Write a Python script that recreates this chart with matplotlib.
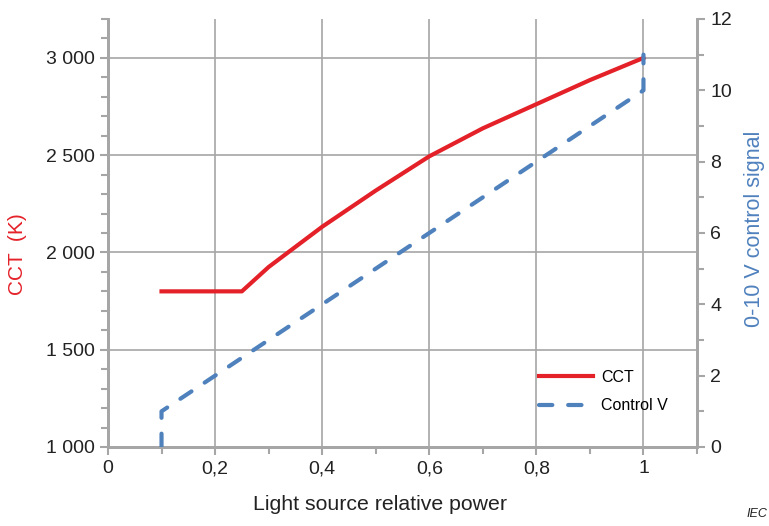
import matplotlib
matplotlib.use("Agg")
import matplotlib.pyplot as plt
from matplotlib.ticker import MultipleLocator, FuncFormatter

plt.rcParams['font.family'] = ['Liberation Sans', 'DejaVu Sans']

power_cct = [0.1, 0.25, 0.3, 0.4, 0.5, 0.6, 0.7, 0.8, 0.9, 1.0]
cct = [1800, 1800, 1925, 2132, 2318, 2494, 2638, 2762, 2886, 3000]
power_v = [0.1, 0.1, 1.0, 1.0]
control_v = [0, 1, 10, 11]

red = '#E42128'
blue = '#4F81BD'
grey = '#A6A6A6'

fig = plt.figure(figsize=(7.69, 5.26), dpi=100)
ax = fig.add_axes([0.1404, 0.1502, 0.766, 0.8137])
ax2 = ax.twinx()

ax.set_xlim(0, 1.1)
ax.set_ylim(1000, 3200)
ax2.set_ylim(0, 12)

ax.plot(power_cct, cct, color=red, lw=3, label='CCT', zorder=3)
ax2.plot(power_v, control_v, color=blue, lw=3, ls=(0, (3.2, 3.8)), dash_capstyle='round',
         label='Control V', zorder=3)

ax.xaxis.set_major_locator(MultipleLocator(0.2))
ax.xaxis.set_minor_locator(MultipleLocator(0.1))
ax.yaxis.set_major_locator(MultipleLocator(500))
ax.yaxis.set_minor_locator(MultipleLocator(100))
ax2.yaxis.set_major_locator(MultipleLocator(2))
ax2.yaxis.set_minor_locator(MultipleLocator(1))

ax.xaxis.set_major_formatter(FuncFormatter(lambda v, p: '0' if abs(v) < 1e-9 else ('1' if abs(v - 1) < 1e-9 else f'{v:.1f}'.replace('.', ','))))
ax.yaxis.set_major_formatter(FuncFormatter(lambda v, p: f'{int(round(v)):,}'.replace(',', ' ')))

ax.grid(True, which='major', color=grey, lw=1.2)
ax.set_axisbelow(True)

for a in (ax, ax2):
    for s in a.spines.values():
        s.set_color(grey)
        s.set_linewidth(2)
    a.spines['top'].set_visible(False)
    a.tick_params(which='both', color=grey, width=1.5, labelsize=14, labelcolor='#222222')
    a.tick_params(which='major', length=6)
    a.tick_params(which='minor', length=5)

xl = ax.set_xlabel('Light source relative power', fontsize=15.3, color='#222222')
xl.set_va('center')
ax.xaxis.set_label_coords(0.462, -0.1355)

yl = ax.set_ylabel('CCT  (K)', fontsize=15, color=red)
yl.set_va('center')
ax.yaxis.set_label_coords(-0.1528, 0.451)

yr = ax2.set_ylabel('0-10 V control signal', fontsize=15.5, color=blue)
yr.set_va('center')
ax2.yaxis.set_label_coords(1.097, 0.509)

h1, l1 = ax.get_legend_handles_labels()
h2, l2 = ax2.get_legend_handles_labels()
leg = ax2.legend(h1 + h2, l1 + l2, loc='lower right', bbox_to_anchor=(0.975, 0.045),
                 frameon=False, fontsize=11.5, handlelength=3.4, handletextpad=0.5,
                 labelspacing=0.85)

fig.text(0.998, 0.012, 'IEC', fontsize=9, style='italic', color='#222222', ha='right', va='bottom')

fig.savefig('out.png', dpi=100)
